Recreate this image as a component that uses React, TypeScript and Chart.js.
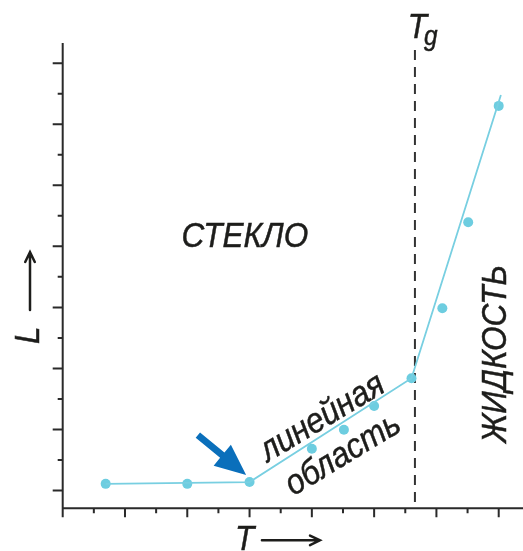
import React, { useEffect, useRef } from "react";
import { Chart, registerables } from "chart.js";

Chart.register(...registerables);

// ---- data (axis units: one tick step = 1) ----
const pointX = [1.38, 4.0, 6.0, 8.0, 9.03, 10.0, 11.2, 12.19, 13.02, 14.0];
const pointY = [0.22, 0.22, 0.28, 1.37, 1.99, 2.77, 3.68, 5.97, 8.79, 12.6];
const lineX = [1.38, 6.0, 11.2, 14.07];
const lineY = [0.22, 0.28, 3.68, 12.96];
const xTicks = [1, 2, 3, 4, 5, 6, 7, 8, 9, 10, 11, 12, 13, 14];
const yTicks = [0, 1, 2, 3, 4, 5, 6, 7, 8, 9, 10, 11, 12, 13, 14];
const tgValue = 11.31;
const tgTop = 14.43;

const xAxisLabel = "T";
const yAxisLabel = "L";
const tgLabel = "T";
const tgSub = "g";
const glassLabel = "СТЕКЛО";
const linearLabel1 = "линейная";
const linearLabel2 = "область";
const liquidLabel = "ЖИДКОСТЬ";

// arrow pointing at the start of the linear region (axis units)
const blueArrowFrom = { x: 4.34, y: 1.82 };
const blueArrowTo = { x: 5.89, y: 0.51 };

const FONT_FAMILY = '"Liberation Sans", Arial, sans-serif';
const TEXT_COLOR = "#1d1d1b";
const AXIS_COLOR = "#2a2a2a";
const CONDENSE = 0.9;

function drawText(
  ctx: CanvasRenderingContext2D,
  text: string,
  x: number,
  y: number,
  rotation: number,
  align: CanvasTextAlign,
  font: string
) {
  ctx.save();
  ctx.translate(x, y);
  ctx.rotate(rotation);
  ctx.scale(CONDENSE, 1);
  ctx.font = font;
  ctx.textAlign = align;
  ctx.textBaseline = "alphabetic";
  ctx.fillStyle = TEXT_COLOR;
  ctx.strokeStyle = TEXT_COLOR;
  ctx.lineWidth = 0.5;
  ctx.fillText(text, 0, 0);
  ctx.strokeText(text, 0, 0);
  const w = ctx.measureText(text).width * CONDENSE;
  ctx.restore();
  return w;
}

function drawOpenArrow(ctx: CanvasRenderingContext2D, x1: number, y1: number, x2: number, y2: number) {
  const ang = Math.atan2(y2 - y1, x2 - x1);
  const hl = 11;
  ctx.save();
  ctx.strokeStyle = TEXT_COLOR;
  ctx.lineWidth = 2.5;
  ctx.lineCap = "round";
  ctx.beginPath();
  ctx.moveTo(x1, y1);
  ctx.lineTo(x2, y2);
  ctx.moveTo(x2 - hl * Math.cos(ang - 0.45), y2 - hl * Math.sin(ang - 0.45));
  ctx.lineTo(x2, y2);
  ctx.lineTo(x2 - hl * Math.cos(ang + 0.45), y2 - hl * Math.sin(ang + 0.45));
  ctx.stroke();
  ctx.restore();
}

const decorPlugin = {
  id: "decor",
  beforeDatasetsDraw(chart: any) {
    const { ctx, chartArea } = chart;
    const xs = chart.scales.x;
    const ys = chart.scales.y;
    const left = chartArea.left;
    const bottom = chartArea.bottom;
    ctx.save();
    // dashed Tg line
    const tx = xs.getPixelForValue(tgValue);
    ctx.strokeStyle = "#333333";
    ctx.lineWidth = 2;
    ctx.setLineDash([10, 7]);
    ctx.beginPath();
    ctx.moveTo(tx, ys.getPixelForValue(tgTop));
    ctx.lineTo(tx, bottom);
    ctx.stroke();
    ctx.setLineDash([]);

    // axes
    ctx.strokeStyle = AXIS_COLOR;
    ctx.lineWidth = 2;
    ctx.beginPath();
    ctx.moveTo(left, chartArea.top);
    ctx.lineTo(left, bottom + 9);
    ctx.moveTo(left - 1, bottom);
    ctx.lineTo(chart.width, bottom);
    ctx.stroke();

    // y ticks
    ctx.beginPath();
    yTicks.forEach((v) => {
      const py = ys.getPixelForValue(v);
      const len = v % 2 === 0 ? 10 : 5;
      ctx.moveTo(left - len, py);
      ctx.lineTo(left, py);
    });
    // x ticks
    xTicks.forEach((v) => {
      const px = xs.getPixelForValue(v);
      const len = v % 2 === 0 ? 9 : 5;
      ctx.moveTo(px, bottom);
      ctx.lineTo(px, bottom + len);
    });
    ctx.stroke();
    ctx.restore();
  },
  afterDraw(chart: any) {
    const { ctx, chartArea } = chart;
    const xs = chart.scales.x;
    const ys = chart.scales.y;
    ctx.save();

    // blue arrow
    {
      const x1 = xs.getPixelForValue(blueArrowFrom.x);
      const y1 = ys.getPixelForValue(blueArrowFrom.y);
      const x2 = xs.getPixelForValue(blueArrowTo.x);
      const y2 = ys.getPixelForValue(blueArrowTo.y);
      const ang = Math.atan2(y2 - y1, x2 - x1);
      const len = Math.hypot(x2 - x1, y2 - y1);
      ctx.save();
      ctx.translate(x1, y1);
      ctx.rotate(ang);
      ctx.fillStyle = "#0a6fbb";
      const headL = 31;
      const headW = 13.5;
      const shaftW = 3.4;
      ctx.beginPath();
      ctx.moveTo(0, -shaftW);
      ctx.lineTo(len - headL, -shaftW);
      ctx.lineTo(len - headL, -headW);
      ctx.lineTo(len, 0);
      ctx.lineTo(len - headL, headW);
      ctx.lineTo(len - headL, shaftW);
      ctx.lineTo(0, shaftW);
      ctx.closePath();
      ctx.fill();
      ctx.restore();
    }

    const big = `italic 35px ${FONT_FAMILY}`;
    const small = `italic 27px ${FONT_FAMILY}`;

    // СТЕКЛО
    drawText(ctx, glassLabel, xs.getPixelForValue(5.85), ys.getPixelForValue(7.98), 0, "center", big);

    // Tg
    const tgx = xs.getPixelForValue(11.08);
    const tgy = ys.getPixelForValue(14.82);
    const tw = drawText(ctx, tgLabel, tgx, tgy, 0, "left", big);
    drawText(ctx, tgSub, tgx + tw - 3, tgy + 7, 0, "left", small);

    // linear region labels
    const rot = (-31 * Math.PI) / 180;
    drawText(ctx, linearLabel1, xs.getPixelForValue(8.5), ys.getPixelForValue(2.1), rot, "center", big);
    drawText(ctx, linearLabel2, xs.getPixelForValue(9.17), ys.getPixelForValue(0.9), rot, "center", big);

    // ЖИДКОСТЬ
    drawText(ctx, liquidLabel, xs.getPixelForValue(14.22), ys.getPixelForValue(4.48), -Math.PI / 2, "center", big);

    // x axis title: T ->
    const bx = xs.getPixelForValue(5.53);
    const by = chartArea.bottom + 42;
    drawText(ctx, xAxisLabel, bx, by, 0, "left", big);
    drawOpenArrow(ctx, bx + 27, by - 10, bx + 85, by - 10);

    // y axis title: L -> (rotated)
    const lx = 39;
    const ly = ys.getPixelForValue(4.8);
    drawText(ctx, yAxisLabel, lx, ly, -Math.PI / 2, "left", big);
    drawOpenArrow(ctx, lx - 9, ly - 34, lx - 9, ly - 92);

    ctx.restore();
  },
};

export default function App() {
  const canvasRef = useRef<HTMLCanvasElement | null>(null);

  useEffect(() => {
    const canvas = canvasRef.current;
    if (!canvas) return;
    const scatterData = pointX.map((x, i) => ({ x, y: pointY[i] }));
    const lineData = lineX.map((x, i) => ({ x, y: lineY[i] }));
    const chart = new Chart(canvas, {
      type: "scatter",
      data: {
        datasets: [
          {
            data: lineData,
            showLine: true,
            borderColor: "#78cfe1",
            borderWidth: 1.8,
            pointRadius: 0,
            tension: 0,
            fill: false,
          } as any,
          {
            data: scatterData,
            backgroundColor: "#6dcde0",
            borderWidth: 0,
            pointRadius: 5,
          },
        ],
      },
      options: {
        animation: false,
        responsive: false,
        maintainAspectRatio: false,
        layout: { autoPadding: false, padding: { left: 62.7, top: 43, right: 0, bottom: 42.7 } },
        scales: {
          x: { type: "linear", min: 0, max: 14.78, display: false },
          y: { type: "linear", min: -0.58, max: 14.66, display: false },
        },
        plugins: {
          legend: { display: false },
          tooltip: { enabled: false },
        },
      } as any,
      plugins: [decorPlugin],
    });
    return () => chart.destroy();
  }, []);

  return (
    <div style={{ position: "fixed", left: 0, top: 0, width: 523, height: 551, background: "#ffffff" }}>
      <canvas ref={canvasRef} width={523} height={551} style={{ display: "block" }} />
    </div>
  );
}
